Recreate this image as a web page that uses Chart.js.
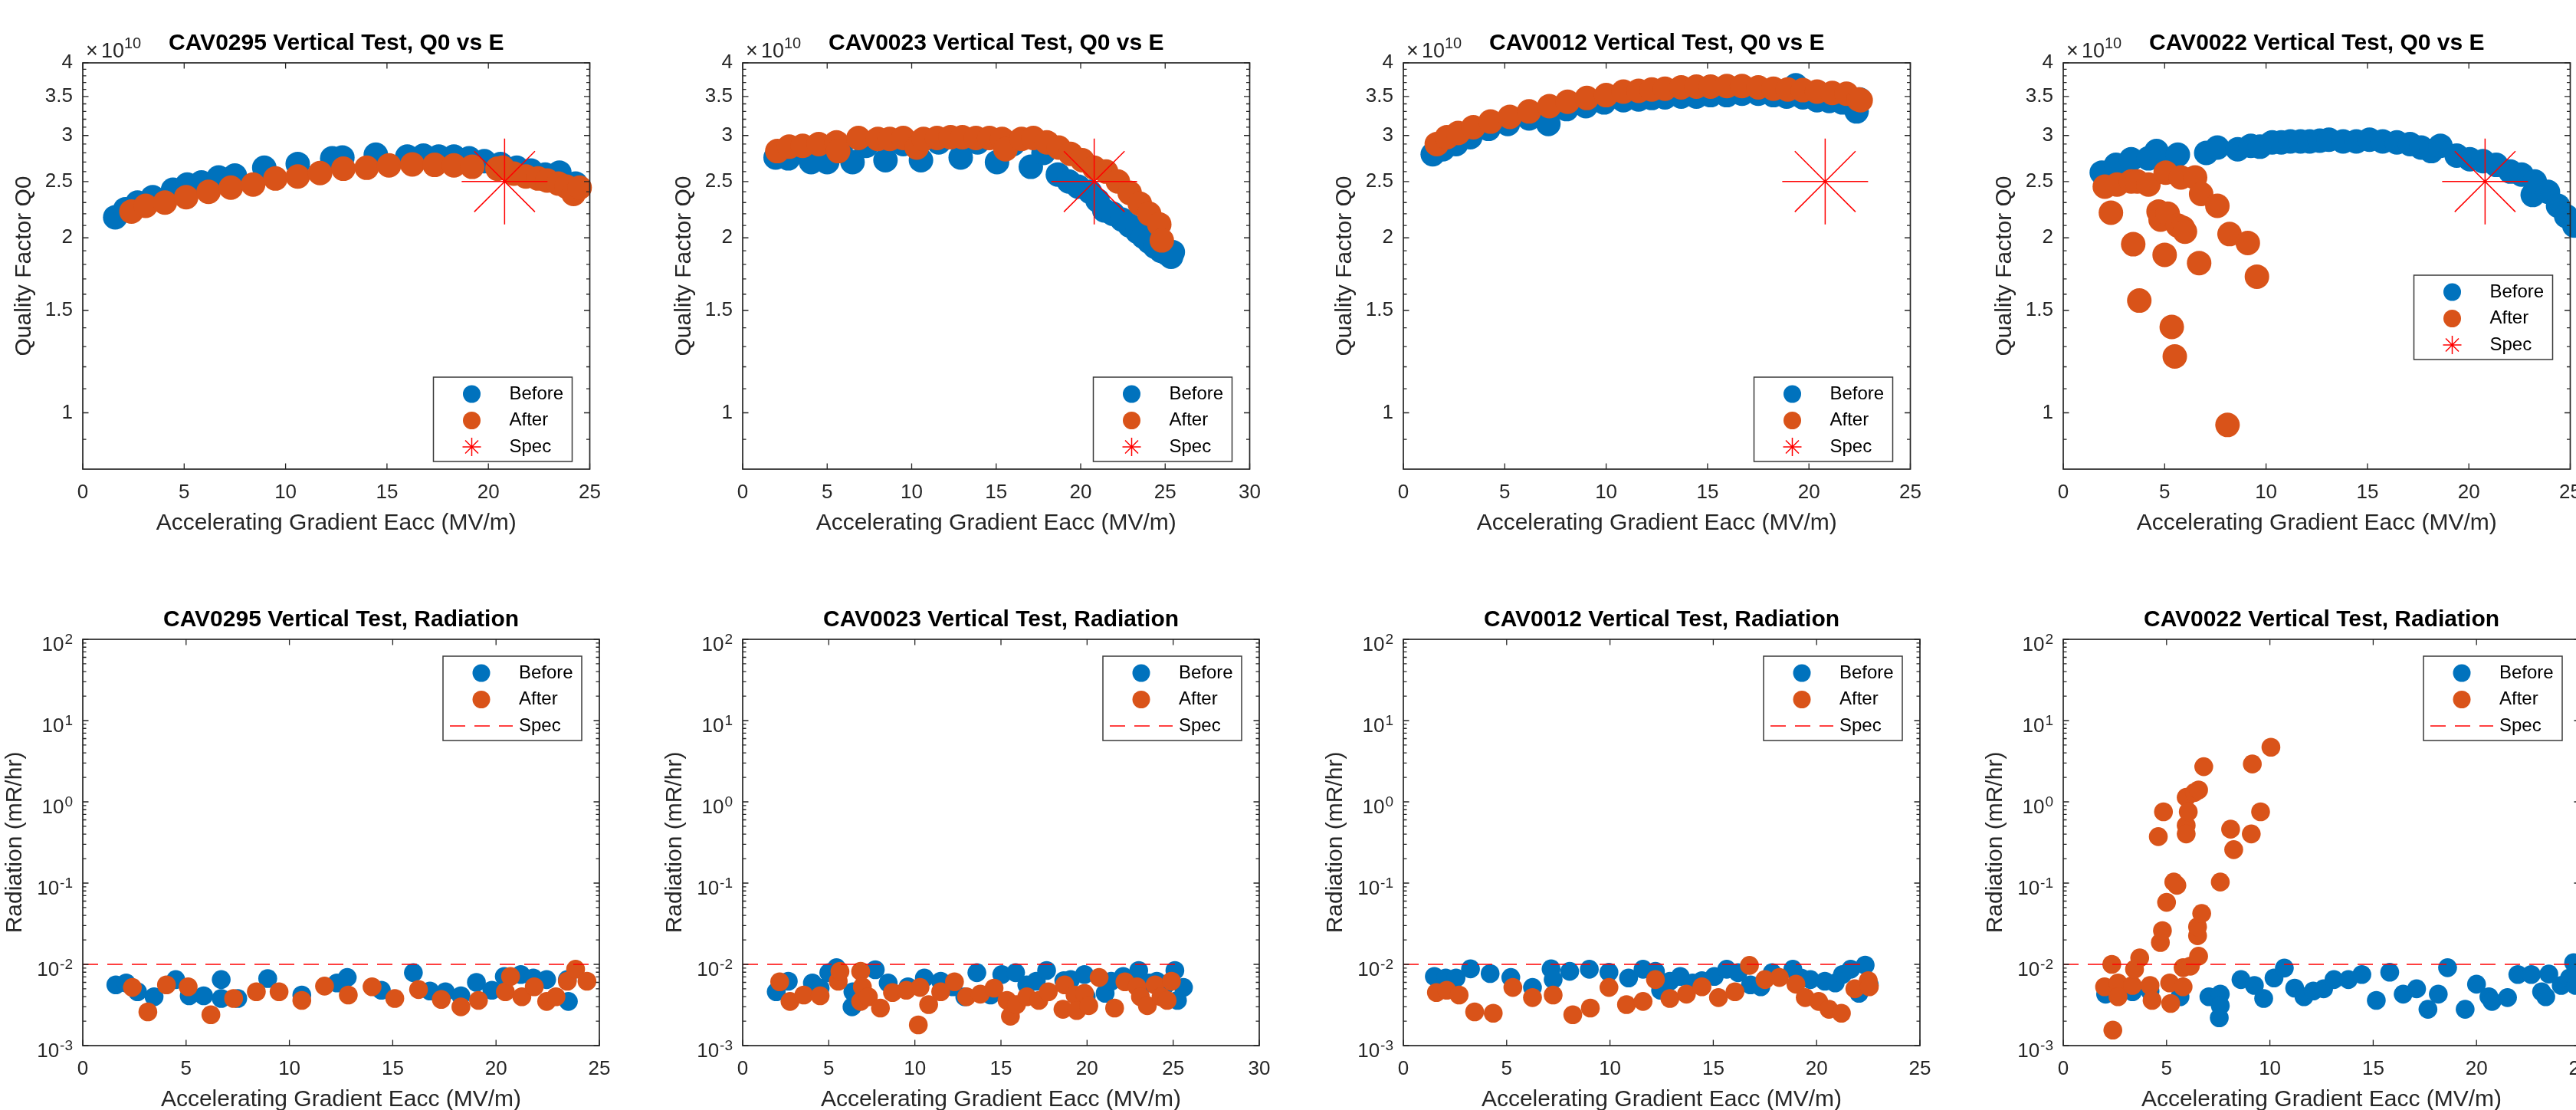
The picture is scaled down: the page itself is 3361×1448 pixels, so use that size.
<!DOCTYPE html>
<html>
<head>
<meta charset="utf-8">
<script src="https://cdn.jsdelivr.net/npm/chart.js@4.4.1/dist/chart.umd.min.js"></script>
<style>
  html, body { margin: 0; padding: 0; background: #fff; }
  body { position: relative; width: 3361px; height: 1448px; overflow: hidden; }
  canvas { position: absolute; }
</style>
</head>
<body>
<script>
// Q0 values are in units of 1e10 (the axis shows the x10^10 factor)
// CAV0295
const q295bE = [1.6, 2.1, 2.7, 3.45, 4.45, 5.15, 5.85, 6.7, 7.5, 8.95, 10.6, 12.3, 12.8, 14.45, 16.0, 16.8, 17.55, 18.3, 19.05, 19.8, 20.6, 21.4, 22.1, 22.8, 23.5, 24.3];
const q295b = [2.17, 2.24, 2.30, 2.35, 2.42, 2.47, 2.49, 2.54, 2.56, 2.64, 2.68, 2.74, 2.75, 2.78, 2.76, 2.77, 2.76, 2.76, 2.74, 2.71, 2.68, 2.64, 2.61, 2.57, 2.59, 2.48];
const q295aE = [2.4, 3.1, 4.05, 5.1, 6.2, 7.3, 8.4, 9.5, 10.6, 11.7, 12.85, 14.0, 15.1, 16.25, 17.35, 18.3, 19.2, 20.45, 20.7, 21.25, 21.85, 22.45, 22.9, 23.45, 23.85, 24.2, 24.5];
const q295a = [2.22, 2.27, 2.30, 2.35, 2.40, 2.44, 2.47, 2.53, 2.55, 2.585, 2.63, 2.64, 2.665, 2.675, 2.67, 2.665, 2.65, 2.63, 2.64, 2.58, 2.55, 2.53, 2.51, 2.48, 2.45, 2.38, 2.44];
const r295bE = [1.6, 2.1, 2.65, 3.45, 4.5, 5.15, 5.85, 6.7, 6.7, 7.5, 8.95, 10.6, 12.3, 12.8, 14.45, 16.0, 16.8, 17.55, 18.3, 19.05, 19.8, 20.4, 21.2, 21.8, 22.45, 23.45, 23.5];
const r295b = [0.0056, 0.0059, 0.0046, 0.0040, 0.0065, 0.0041, 0.0041, 0.0065, 0.0038, 0.0038, 0.0067, 0.0042, 0.0059, 0.0069, 0.0048, 0.0079, 0.0047, 0.0046, 0.0041, 0.0060, 0.0048, 0.0071, 0.0075, 0.0068, 0.0065, 0.0065, 0.0035];
const r295aE = [2.4, 3.15, 4.05, 5.1, 6.2, 7.3, 8.4, 9.5, 10.6, 11.7, 12.85, 14.0, 15.1, 16.25, 17.35, 18.3, 19.15, 20.45, 20.7, 21.25, 21.85, 22.45, 22.9, 23.45, 23.85, 24.4];
const r295a = [0.0052, 0.0026, 0.0056, 0.0053, 0.0024, 0.0038, 0.0046, 0.0046, 0.0036, 0.0054, 0.0042, 0.0053, 0.0038, 0.0049, 0.0037, 0.0030, 0.0036, 0.0046, 0.0071, 0.0040, 0.0053, 0.0035, 0.0040, 0.0062, 0.0087, 0.0062];

// CAV0023
const q023bE = [1.95, 2.7, 3.5, 4.05, 5.0, 5.8, 6.5, 7.3, 8.45, 9.5, 10.55, 11.6, 12.9, 13.9, 15.05, 16.0, 17.05, 17.8, 18.65, 19.3, 19.85, 20.55, 21.0, 21.4, 21.9, 22.45, 22.9, 23.35, 23.7, 24.05, 24.4, 24.75, 25.1, 25.35, 25.45];
const q023b = [2.75, 2.74, 2.85, 2.70, 2.70, 2.86, 2.70, 2.88, 2.72, 2.90, 2.72, 2.92, 2.75, 2.92, 2.70, 2.90, 2.65, 2.80, 2.57, 2.50, 2.45, 2.40, 2.32, 2.23, 2.20, 2.15, 2.10, 2.05, 2.01, 1.97, 1.93, 1.90, 1.88, 1.855, 1.89];
const q023aE = [2.05, 2.75, 3.55, 4.5, 5.55, 5.65, 6.85, 8.0, 8.7, 9.5, 10.3, 10.7, 11.5, 12.3, 13.0, 13.8, 14.6, 15.35, 15.55, 16.5, 17.2, 18.0, 18.7, 19.4, 20.1, 20.8, 21.5, 22.2, 22.9, 23.5, 24.05, 24.65, 24.8];
const q023a = [2.82, 2.87, 2.88, 2.90, 2.92, 2.82, 2.97, 2.96, 2.96, 2.97, 2.86, 2.96, 2.97, 2.98, 2.98, 2.97, 2.97, 2.96, 2.84, 2.96, 2.97, 2.92, 2.86, 2.79, 2.72, 2.64, 2.60, 2.50, 2.39, 2.29, 2.20, 2.11, 1.98];
const r023bE = [1.95, 2.65, 4.05, 4.5, 5.0, 5.45, 6.35, 6.4, 7.7, 8.45, 9.6, 10.55, 11.5, 12.2, 12.9, 13.6, 14.4, 15.05, 15.85, 16.5, 17.05, 17.65, 18.65, 19.05, 19.85, 19.95, 21.05, 21.4, 22.1, 23.0, 23.6, 24.05, 24.55, 25.1, 25.25, 25.6];
const r023b = [0.0046, 0.0062, 0.0059, 0.0051, 0.0079, 0.0091, 0.0030, 0.0046, 0.0086, 0.0059, 0.0053, 0.0068, 0.0062, 0.0053, 0.0040, 0.0079, 0.0042, 0.0075, 0.0079, 0.0056, 0.0062, 0.0084, 0.0063, 0.0065, 0.0075, 0.0040, 0.0044, 0.0062, 0.0071, 0.0084, 0.0059, 0.0062, 0.0056, 0.0084, 0.0036, 0.0052];
const r023aE = [2.15, 2.75, 3.55, 4.5, 5.55, 5.65, 6.85, 6.85, 6.95, 7.3, 8.0, 8.7, 9.5, 10.2, 10.3, 10.8, 11.5, 12.3, 13.0, 13.8, 14.6, 15.35, 15.55, 15.9, 16.5, 17.2, 17.75, 18.6, 18.7, 19.3, 19.4, 19.85, 20.1, 20.7, 21.6, 22.2, 22.9, 23.1, 23.5, 23.95, 24.3, 24.65, 24.9];
const r023a = [0.0061, 0.0035, 0.0042, 0.0041, 0.0062, 0.0082, 0.0082, 0.0035, 0.0053, 0.0040, 0.0029, 0.0045, 0.0048, 0.0018, 0.0052, 0.0032, 0.0046, 0.0061, 0.0040, 0.0043, 0.0051, 0.0036, 0.0023, 0.0032, 0.0040, 0.0036, 0.0046, 0.0028, 0.0056, 0.0042, 0.0027, 0.0044, 0.0031, 0.0069, 0.0029, 0.0061, 0.0053, 0.0040, 0.0031, 0.0056, 0.0040, 0.0036, 0.0062];

// CAV0012
const q012bE = [1.45, 1.95, 2.6, 3.3, 4.2, 5.15, 6.2, 7.15, 8.05, 9.0, 9.9, 10.85, 11.6, 12.25, 12.9, 13.7, 14.45, 15.15, 15.95, 16.7, 17.5, 18.25, 18.9, 19.35, 19.7, 20.4, 21.0, 21.65, 22.35, 22.5];
const q012b = [2.785, 2.84, 2.90, 2.98, 3.08, 3.14, 3.21, 3.14, 3.33, 3.37, 3.42, 3.45, 3.46, 3.48, 3.49, 3.50, 3.50, 3.52, 3.52, 3.54, 3.54, 3.52, 3.50, 3.66, 3.49, 3.45, 3.44, 3.42, 3.30, 3.46];
const q012aE = [1.65, 2.15, 2.7, 3.45, 4.3, 5.25, 6.2, 7.2, 8.1, 9.05, 10.0, 10.85, 11.6, 12.25, 12.9, 13.7, 14.45, 15.15, 15.95, 16.7, 17.5, 18.25, 18.95, 19.7, 20.4, 21.15, 21.85, 22.45, 22.55];
const q012a = [2.90, 2.98, 3.03, 3.10, 3.17, 3.23, 3.30, 3.37, 3.43, 3.48, 3.52, 3.57, 3.58, 3.60, 3.61, 3.63, 3.64, 3.64, 3.65, 3.65, 3.63, 3.61, 3.60, 3.59, 3.57, 3.55, 3.54, 3.46, 3.45];
const r012bE = [1.5, 2.05, 2.55, 3.25, 4.2, 5.2, 6.25, 7.15, 7.25, 8.05, 9.0, 9.95, 10.9, 11.6, 12.2, 12.45, 12.9, 13.4, 14.0, 14.45, 15.05, 15.65, 16.2, 16.8, 17.3, 17.85, 18.85, 19.25, 19.7, 20.4, 20.9, 21.25, 21.65, 22.05, 22.35, 22.55];
const r012b = [0.0071, 0.0068, 0.0068, 0.0088, 0.0077, 0.0069, 0.0052, 0.0088, 0.0065, 0.0082, 0.0087, 0.0080, 0.0068, 0.0087, 0.0082, 0.0048, 0.0062, 0.0071, 0.0059, 0.0063, 0.0071, 0.0087, 0.0079, 0.0056, 0.0053, 0.0079, 0.0087, 0.0068, 0.0065, 0.0062, 0.0059, 0.0075, 0.0087, 0.0044, 0.0098, 0.0056];
const r012aE = [1.6, 2.1, 2.7, 3.45, 4.35, 5.3, 6.25, 7.25, 8.2, 9.05, 9.95, 10.8, 11.6, 12.2, 12.9, 13.7, 14.45, 15.25, 16.05, 16.75, 17.5, 18.2, 19.0, 19.45, 20.1, 20.6, 21.2, 21.85, 22.5, 22.55];
const r012a = [0.0045, 0.0048, 0.0042, 0.0026, 0.0025, 0.0052, 0.0039, 0.0042, 0.0024, 0.0029, 0.0052, 0.0032, 0.0035, 0.0065, 0.0038, 0.0043, 0.0053, 0.0039, 0.0046, 0.0097, 0.0065, 0.0069, 0.0057, 0.0039, 0.0035, 0.0028, 0.0025, 0.0050, 0.0063, 0.0053];

// CAV0022
const q022bE = [1.9, 2.6, 3.35, 4.2, 4.6, 5.2, 5.65, 7.05, 7.6, 8.6, 9.25, 9.7, 10.3, 10.75, 11.2, 11.7, 12.15, 12.65, 13.1, 13.8, 14.45, 15.1, 15.75, 16.45, 17.1, 17.65, 18.15, 18.6, 19.4, 20.05, 20.7, 21.35, 22.05, 22.6, 23.15, 23.25, 23.9, 24.4, 24.8, 25.2];
const q022b = [2.59, 2.67, 2.73, 2.74, 2.82, 2.72, 2.78, 2.80, 2.86, 2.84, 2.88, 2.87, 2.92, 2.92, 2.93, 2.93, 2.93, 2.94, 2.95, 2.93, 2.93, 2.95, 2.93, 2.92, 2.90, 2.86, 2.82, 2.88, 2.77, 2.73, 2.71, 2.67, 2.60, 2.57, 2.37, 2.50, 2.40, 2.27, 2.18, 2.10];
const q022aE = [2.05, 2.35, 2.65, 3.35, 3.45, 3.65, 3.75, 4.2, 4.7, 4.8, 5.0, 5.05, 5.15, 5.35, 5.5, 5.65, 5.8, 5.9, 6.0, 6.5, 6.7, 6.8, 7.6, 8.1, 8.2, 9.1, 9.55];
const q022a = [2.45, 2.21, 2.47, 2.50, 1.95, 2.50, 1.56, 2.47, 2.22, 2.15, 1.87, 2.59, 2.20, 1.405, 1.25, 2.10, 2.54, 2.08, 2.05, 2.54, 1.81, 2.38, 2.27, 0.953, 2.03, 1.96, 1.715];
const r022bE = [2.05, 2.6, 3.35, 4.2, 5.65, 7.05, 7.6, 7.6, 7.55, 8.6, 9.25, 9.7, 10.2, 10.7, 11.2, 11.65, 12.1, 12.6, 13.1, 13.8, 14.45, 15.15, 15.8, 16.45, 17.1, 17.65, 18.15, 18.6, 19.45, 20.0, 20.6, 20.75, 21.5, 22.0, 22.65, 23.15, 23.35, 23.5, 24.1, 24.5, 24.7, 24.8];
const r022b = [0.0043, 0.0045, 0.0046, 0.0047, 0.0040, 0.0040, 0.0043, 0.0031, 0.0022, 0.0065, 0.0055, 0.0038, 0.0068, 0.0090, 0.0051, 0.0040, 0.0047, 0.0050, 0.0065, 0.0065, 0.0075, 0.0036, 0.0080, 0.0043, 0.0050, 0.0028, 0.0043, 0.0091, 0.0028, 0.0057, 0.0040, 0.0035, 0.0039, 0.0075, 0.0075, 0.0046, 0.0040, 0.0076, 0.0055, 0.0068, 0.0105, 0.0055];
const r022aE = [2.0, 2.35, 2.4, 2.65, 2.65, 3.35, 3.45, 3.7, 4.2, 4.3, 4.6, 4.7, 4.8, 4.85, 5.0, 5.15, 5.2, 5.35, 5.5, 5.8, 5.8, 5.95, 5.95, 5.95, 6.05, 6.15, 6.35, 6.5, 6.5, 6.55, 6.55, 6.7, 6.8, 7.6, 8.1, 8.25, 9.1, 9.15, 9.55, 10.05];
const r022a = [0.0053, 0.010, 0.00155, 0.0059, 0.0040, 0.0055, 0.0087, 0.012, 0.0055, 0.0036, 0.373, 0.0186, 0.026, 0.755, 0.058, 0.0059, 0.0033, 0.103, 0.094, 0.0053, 0.0091, 1.135, 0.513, 0.403, 0.755, 0.0095, 1.30, 0.0225, 0.029, 1.40, 0.0126, 0.0423, 2.71, 0.103, 0.461, 0.258, 0.403, 2.92, 0.755, 4.7];

// spec values
const specE = 20.8;
const specQ = 2.5;
const specR = 0.01;
const specLineEnd = [24.9, 25.6, 22.55, 25.5];

// tick labels
const qTicks = [1, 1.5, 2, 2.5, 3, 3.5, 4];
const qTickLabels = ['1', '1.5', '2', '2.5', '3', '3.5', '4'];
const rTicks = [1e-3, 1e-2, 1e-1, 1, 10, 100];
const rTickExp = ['-3', '-2', '-1', '0', '1', '2'];
const xTicks25 = [0, 5, 10, 15, 20, 25];
const xTicks30 = [0, 5, 10, 15, 20, 25, 30];

const BLUE = '#0072BD';
const ORANGE = '#D95319';
const RED = '#FF0000';
const DASH_RED = 'rgba(255, 0, 0, 0.75)';
const AXIS = '#262626';
const FONT = '"Liberation Sans", Arial, Helvetica, sans-serif';

// minor ticks
const qMinor = [];
for (let i = 9; i <= 39; i++) {
    if (i % 5 !== 0) qMinor.push(i / 10);
}
const rMinor = [];
for (let e = -3; e <= 1; e++) {
    for (let m = 2; m <= 9; m++) rMinor.push(m * Math.pow(10, e));
}

// layout of the 2x4 grid (pixels)
const colLeft = [108, 969, 1831, 2692];
const rowTop = [82, 834];
const AX_W = 674, AX_H = 530;
const PAD_L = 108, PAD_T = 82, PAD_R = 45, PAD_B = 100;

const pts = (xs, ys) => xs.map((x, i) => ({ x: x, y: ys[i] }));

const panels = [
    { row: 0, col: 0, kind: 'q', title: 'CAV0295 Vertical Test, Q0 vs E', xTicks: xTicks25, bE: q295bE, b: q295b, aE: q295aE, a: q295a, legend: 'se' },
    { row: 0, col: 1, kind: 'q', title: 'CAV0023 Vertical Test, Q0 vs E', xTicks: xTicks30, bE: q023bE, b: q023b, aE: q023aE, a: q023a, legend: 'se' },
    { row: 0, col: 2, kind: 'q', title: 'CAV0012 Vertical Test, Q0 vs E', xTicks: xTicks25, bE: q012bE, b: q012b, aE: q012aE, a: q012a, legend: 'se' },
    { row: 0, col: 3, kind: 'q', title: 'CAV0022 Vertical Test, Q0 vs E', xTicks: xTicks25, bE: q022bE, b: q022b, aE: q022aE, a: q022a, legend: 'e' },
    { row: 1, col: 0, kind: 'r', title: 'CAV0295 Vertical Test, Radiation', xTicks: xTicks25, bE: r295bE, b: r295b, aE: r295aE, a: r295a, legend: 'ne', specEnd: specLineEnd[0] },
    { row: 1, col: 1, kind: 'r', title: 'CAV0023 Vertical Test, Radiation', xTicks: xTicks30, bE: r023bE, b: r023b, aE: r023aE, a: r023a, legend: 'ne', specEnd: specLineEnd[1] },
    { row: 1, col: 2, kind: 'r', title: 'CAV0012 Vertical Test, Radiation', xTicks: xTicks25, bE: r012bE, b: r012b, aE: r012aE, a: r012a, legend: 'ne', specEnd: specLineEnd[2] },
    { row: 1, col: 3, kind: 'r', title: 'CAV0022 Vertical Test, Radiation', xTicks: xTicks25, bE: r022bE, b: r022b, aE: r022aE, a: r022a, legend: 'ne', specEnd: specLineEnd[3] }
];

function drawStar(ctx, x, y, r) {
    const d = r * Math.SQRT1_2;
    ctx.beginPath();
    ctx.moveTo(x - r, y); ctx.lineTo(x + r, y);
    ctx.moveTo(x, y - r); ctx.lineTo(x, y + r);
    ctx.moveTo(x - d, y - d); ctx.lineTo(x + d, y + d);
    ctx.moveTo(x - d, y + d); ctx.lineTo(x + d, y - d);
    ctx.stroke();
}

// Matlab-like axes box, inward ticks, log labels and the legend
const matlabAxes = {
    id: 'matlabAxes',
    afterDraw(chart, args, o) {
        const ctx = chart.ctx;
        const ca = chart.chartArea;
        const xs = chart.scales.x;
        const ys = chart.scales.y;
        ctx.save();

        ctx.strokeStyle = AXIS;
        ctx.lineWidth = 1.3;
        ctx.beginPath();
        o.xTicks.forEach(v => {
            const p = xs.getPixelForValue(v);
            ctx.moveTo(p, ca.bottom); ctx.lineTo(p, ca.bottom - 7.5);
            ctx.moveTo(p, ca.top); ctx.lineTo(p, ca.top + 7.5);
        });
        const yt = (v, len) => {
            const p = ys.getPixelForValue(v);
            ctx.moveTo(ca.left, p); ctx.lineTo(ca.left + len, p);
            ctx.moveTo(ca.right, p); ctx.lineTo(ca.right - len, p);
        };
        o.yMajor.forEach(v => yt(v, 7.5));
        o.yMinor.forEach(v => yt(v, 4.5));
        ctx.stroke();
        ctx.lineWidth = 1.7;
        ctx.strokeRect(ca.left, ca.top, ca.right - ca.left, ca.bottom - ca.top);

        ctx.fillStyle = AXIS;
        ctx.textBaseline = 'alphabetic';
        ctx.textAlign = 'left';
        if (o.kind === 'q') {
            // x10^10 factor above the axis
            ctx.font = '27px ' + FONT;
            ctx.fillText('\u00D7', ca.left + 4, ca.top - 7);
            ctx.fillText('10', ca.left + 24, ca.top - 7);
            ctx.font = '20px ' + FONT;
            ctx.fillText('10', ca.left + 54, ca.top - 19);
        } else {
            // 10^n tick labels
            rTicks.forEach((v, i) => {
                const p = ys.getPixelForValue(v);
                ctx.font = '19px ' + FONT;
                const supW = ctx.measureText(rTickExp[i]).width;
                ctx.font = '26px ' + FONT;
                const baseW = ctx.measureText('10').width;
                const right = ca.left - 13;
                ctx.fillText('10', right - supW - baseW - 1, p + 14.5);
                ctx.font = '19px ' + FONT;
                ctx.fillText(rTickExp[i], right - supW, p + 6);
            });
        }

        // legend
        const w = 181, h = 110;
        const left = ca.right - 23 - w;
        let top;
        if (o.legend === 'se') top = ca.bottom - 10 - h;
        else if (o.legend === 'ne') top = ca.top + 22;
        else top = ca.top + 277;
        ctx.fillStyle = '#fff';
        ctx.fillRect(left, top, w, h);
        ctx.strokeStyle = '#3a3a3a';
        ctx.lineWidth = 1.5;
        ctx.strokeRect(left, top, w, h);

        const rows = [top + 22, top + 56.5, top + 91];
        const mx = left + 50;
        ctx.fillStyle = BLUE;
        ctx.beginPath(); ctx.arc(mx, rows[0], 11.5, 0, Math.PI * 2); ctx.fill();
        ctx.fillStyle = ORANGE;
        ctx.beginPath(); ctx.arc(mx, rows[1], 11.5, 0, Math.PI * 2); ctx.fill();
        if (o.kind === 'q') {
            ctx.strokeStyle = RED;
            ctx.lineWidth = 1.5;
            drawStar(ctx, mx, rows[2], 12);
        } else {
            ctx.strokeStyle = DASH_RED;
            ctx.lineWidth = 2;
            ctx.setLineDash([20, 12]);
            ctx.beginPath();
            ctx.moveTo(left + 9, rows[2]); ctx.lineTo(left + 91, rows[2]);
            ctx.stroke();
            ctx.setLineDash([]);
        }
        ctx.fillStyle = '#000';
        ctx.font = '24px ' + FONT;
        ctx.textBaseline = 'middle';
        ['Before', 'After', 'Spec'].forEach((t, i) => ctx.fillText(t, left + 99, rows[i]));

        ctx.restore();
    }
};

Chart.defaults.font.family = FONT;
Chart.defaults.color = AXIS;

panels.forEach(p => {
    const canvas = document.createElement('canvas');
    canvas.width = PAD_L + AX_W + PAD_R;
    canvas.height = PAD_T + AX_H + PAD_B;
    canvas.style.left = (colLeft[p.col] - PAD_L) + 'px';
    canvas.style.top = (rowTop[p.row] - PAD_T) + 'px';
    document.body.appendChild(canvas);

    const isQ = p.kind === 'q';
    const xMax = p.xTicks[p.xTicks.length - 1];
    const size = isQ ? 16 : 12.3;

    const specSet = isQ
        ? { label: 'Spec', data: [{ x: specE, y: specQ }], pointStyle: 'star', pointRadius: 56,
            borderColor: RED, backgroundColor: RED, borderWidth: 1.5, clip: false, order: 1 }
        : { label: 'Spec', data: [{ x: 0, y: specR }, { x: p.specEnd, y: specR }], showLine: true,
            borderColor: DASH_RED, borderWidth: 2, borderDash: [20, 12], pointRadius: 0, fill: false, order: 1 };

    new Chart(canvas.getContext('2d'), {
        type: 'scatter',
        data: {
            datasets: [
                specSet,
                { label: 'After', data: pts(p.aE, p.a), pointRadius: size, backgroundColor: ORANGE,
                  borderWidth: 0, clip: false, order: 2 },
                { label: 'Before', data: pts(p.bE, p.b), pointRadius: size, backgroundColor: BLUE,
                  borderWidth: 0, clip: false, order: 3 }
            ]
        },
        options: {
            responsive: false,
            animation: false,
            events: [],
            layout: { padding: { left: 0, top: 0, right: PAD_R, bottom: 0 } },
            plugins: {
                legend: { display: false },
                tooltip: { enabled: false },
                title: {
                    display: true,
                    text: p.title,
                    fullSize: false,
                    color: '#000',
                    font: { family: FONT, size: 30, weight: 'bold' },
                    padding: { top: 39, bottom: 7 }
                },
                matlabAxes: {
                    kind: p.kind,
                    legend: p.legend,
                    xTicks: p.xTicks,
                    yMajor: isQ ? qTicks : rTicks,
                    yMinor: isQ ? qMinor : rMinor
                }
            },
            scales: {
                x: {
                    type: 'linear',
                    min: 0,
                    max: xMax,
                    grid: { display: false, drawTicks: false },
                    border: { display: false },
                    afterBuildTicks: s => { s.ticks = p.xTicks.map(v => ({ value: v })); },
                    ticks: { color: AXIS, font: { family: FONT, size: 26 }, padding: 15, maxRotation: 0, autoSkip: false },
                    title: {
                        display: true,
                        text: 'Accelerating Gradient Eacc (MV/m)',
                        color: AXIS,
                        font: { family: FONT, size: 30 },
                        padding: { top: 0, bottom: 11 }
                    },
                    afterFit: s => { s.height = PAD_B; }
                },
                y: {
                    type: 'logarithmic',
                    min: isQ ? 0.8 : 1e-3,
                    max: isQ ? 4 : 100,
                    grid: { display: false, drawTicks: false },
                    border: { display: false },
                    afterBuildTicks: s => { s.ticks = (isQ ? qTicks : rTicks).map(v => ({ value: v })); },
                    ticks: {
                        display: isQ,
                        color: AXIS,
                        font: { family: FONT, size: 26 },
                        padding: 13,
                        autoSkip: false,
                        callback: (v, i) => isQ ? qTickLabels[i] : ''
                    },
                    title: {
                        display: true,
                        text: isQ ? 'Quality Factor Q0' : 'Radiation (mR/hr)',
                        color: AXIS,
                        font: { family: FONT, size: 30 },
                        padding: { top: isQ ? 14 : 2, bottom: 0 }
                    },
                    afterFit: s => { s.width = PAD_L; }
                }
            }
        },
        plugins: [matlabAxes]
    });
});
</script>
</body>
</html>
